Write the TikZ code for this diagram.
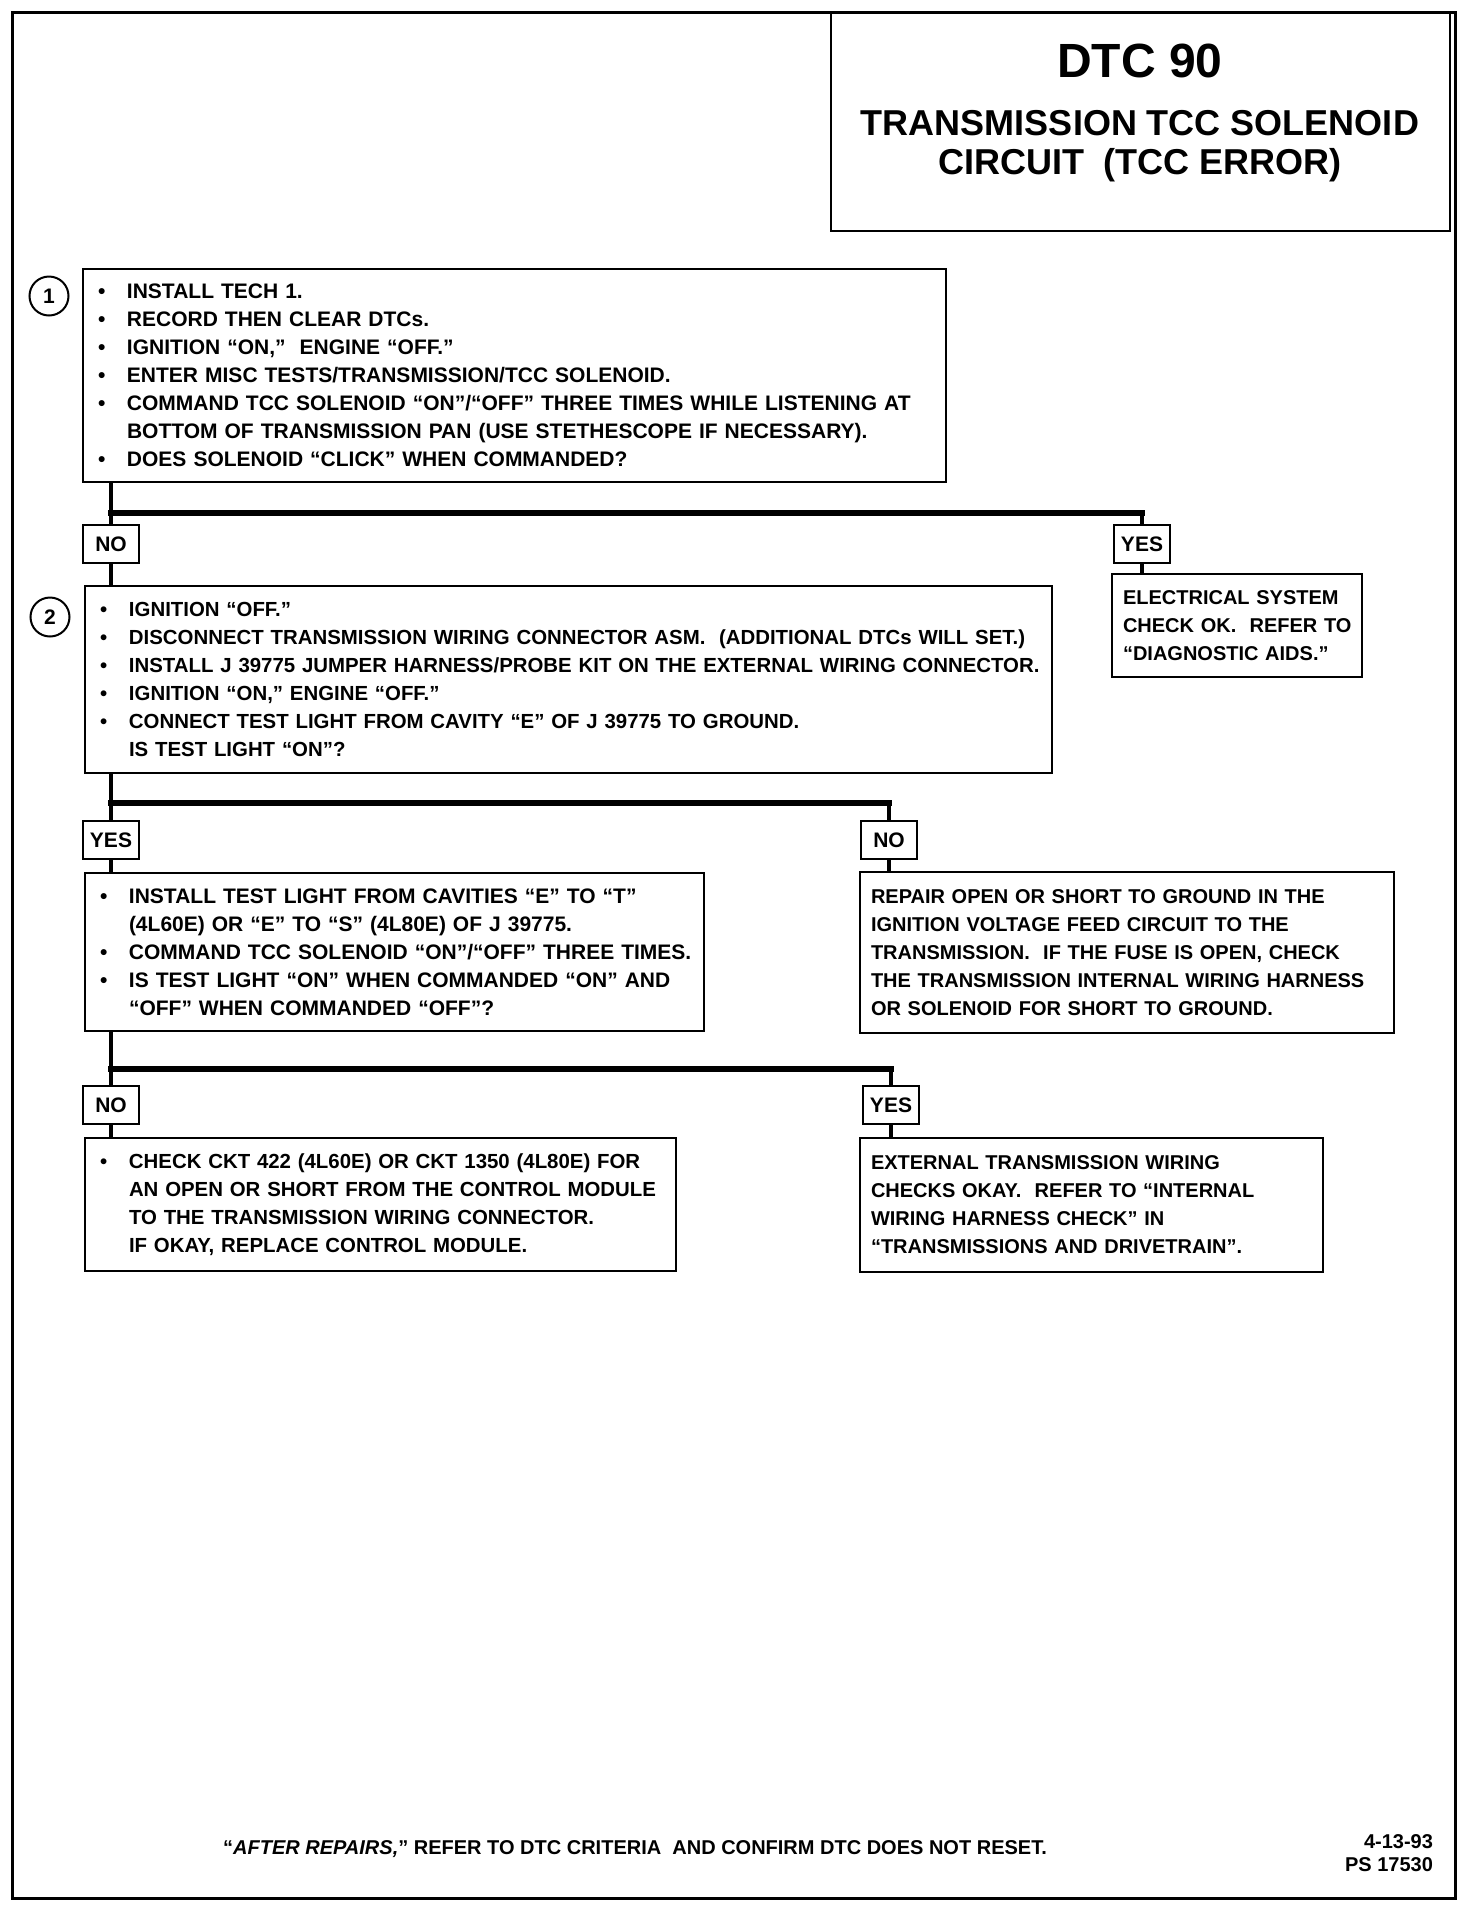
\documentclass[tikz,border=0pt]{standalone}
\usepackage{fontspec}
\setmainfont{Liberation Sans}
\newcommand{\itm}[1]{\mbox{\makebox[14.5pt][l]{\textbullet}#1}}
\newcommand{\cnt}[1]{\mbox{\hspace*{14.5pt}#1}}
\newcommand{\pln}[1]{\mbox{#1}}
\begin{document}
\begin{tikzpicture}[x=0.5pt,y=-0.5pt,line join=miter,
  box/.style={draw,line width=1pt,anchor=north west,align=left,inner xsep=7.5pt,inner ysep=0pt},
  tight/.style={font=\fontsize{10.2}{14}\selectfont\bfseries},
  note/.style={box,inner xsep=5.5pt,font=\fontsize{10}{14}\selectfont\bfseries},
  lbl/.style={draw,line width=1pt,minimum height=19pt,minimum width=28pt,inner sep=2.5pt},
  num/.style={draw,circle,line width=1pt,minimum size=19.5pt,inner sep=0pt},
  flow/.style={line width=1.8pt},
  bar/.style={line width=2.8pt,line cap=rect}]
 \tikzset{every node/.style={font=\fontsize{10.5}{14}\selectfont\bfseries}}
 \useasboundingbox (0,0) rectangle (1472,1908);
 % frame and title
 \draw[line width=1.5pt] (12,12) rectangle (1455,1898);
 \draw[line width=1.2pt] (831,12) rectangle (1450,231);
 \node (dtc) at (1140,61) {\fontsize{24}{28}\selectfont\bfseries DTC 90};
 \node[align=center,font=\fontsize{18}{19.5}\selectfont\bfseries] (ttl) at (1140,146)
   {TRANSMISSION TCC SOLENOID\\CIRCUIT\ \ (TCC ERROR)};
 % step 1
 \node[num] (n1) at (49,296) {1};
 \node[box,text width=416.5pt,minimum height=106.5pt] (q1) at (82,268) {%
   \itm{INSTALL TECH 1.}\\
   \itm{RECORD THEN CLEAR DTCs.}\\
   \itm{IGNITION “ON,”\ \ ENGINE “OFF.”}\\
   \itm{ENTER MISC TESTS/TRANSMISSION/TCC SOLENOID.}\\
   \itm{COMMAND TCC SOLENOID “ON”/“OFF” THREE TIMES WHILE LISTENING AT}\\
   \cnt{BOTTOM OF TRANSMISSION PAN (USE STETHESCOPE IF NECESSARY).}\\
   \itm{DOES SOLENOID “CLICK” WHEN COMMANDED?}};
 \coordinate (j1) at (111,513);
 \node[lbl] (no1) at (111,544) {NO};
 \node[lbl] (yes1) at (1142,544) {YES};
 \node[note,text width=114pt,minimum height=51.5pt] (el) at (1111,573)
   {\pln{ELECTRICAL SYSTEM}\\\pln{CHECK OK.\ \ REFER TO}\\\pln{“DIAGNOSTIC AIDS.”}};
 \draw[flow] (q1.south -| j1) -- (j1) -- (no1.north);
 \draw[bar] (j1) -- (j1 -| yes1);
 \draw[flow] (j1 -| yes1) -- (yes1.north);
 \draw[flow] (yes1.south) -- (yes1.south |- el.north);
 % step 2
 \node[num] (n2) at (50,617) {2};
 \node[box,tight,text width=468.5pt,minimum height=93.5pt] (q2) at (84,585) {%
   \itm{IGNITION “OFF.”}\\
   \itm{DISCONNECT TRANSMISSION WIRING CONNECTOR ASM.\ \ (ADDITIONAL DTCs WILL SET.)}\\
   \itm{INSTALL J 39775 JUMPER HARNESS/PROBE KIT ON THE EXTERNAL WIRING CONNECTOR.}\\
   \itm{IGNITION “ON,” ENGINE “OFF.”}\\
   \itm{CONNECT TEST LIGHT FROM CAVITY “E” OF J 39775 TO GROUND.}\\
   \cnt{IS TEST LIGHT “ON”?}};
 \draw[flow] (no1.south) -- (no1.south |- q2.north);
 \coordinate (j2) at (111,803);
 \node[lbl] (yes2) at (111,840) {YES};
 \node[lbl] (no2) at (889,840) {NO};
 \draw[flow] (q2.south -| j2) -- (j2) -- (yes2.north);
 \draw[bar] (j2) -- (j2 -| no2);
 \draw[flow] (j2 -| no2) -- (no2.north);
 % step 3
 \node[box,text width=294.5pt,minimum height=79pt] (q3) at (84,872) {%
   \itm{INSTALL TEST LIGHT FROM CAVITIES “E” TO “T”}\\
   \cnt{(4L60E) OR “E” TO “S” (4L80E) OF J 39775.}\\
   \itm{COMMAND TCC SOLENOID “ON”/“OFF” THREE TIMES.}\\
   \itm{IS TEST LIGHT “ON” WHEN COMMANDED “ON” AND}\\
   \cnt{“OFF” WHEN COMMANDED “OFF”?}};
 \node[note,text width=256pt,minimum height=80.5pt] (rp) at (859,871)
   {\pln{REPAIR OPEN OR SHORT TO GROUND IN THE}\\
    \pln{IGNITION VOLTAGE FEED CIRCUIT TO THE}\\
    \pln{TRANSMISSION.\ \ IF THE FUSE IS OPEN, CHECK}\\
    \pln{THE TRANSMISSION INTERNAL WIRING HARNESS}\\
    \pln{OR SOLENOID FOR SHORT TO GROUND.}};
 \draw[flow] (yes2.south) -- (yes2.south |- q3.north);
 \draw[flow] (no2.south) -- (no2.south |- rp.north);
 \coordinate (j3) at (111,1069);
 \node[lbl] (no3) at (111,1105) {NO};
 \node[lbl] (yes3) at (891,1105) {YES};
 \draw[flow] (q3.south -| j3) -- (j3) -- (no3.north);
 \draw[bar] (j3) -- (j3 -| yes3);
 \draw[flow] (j3 -| yes3) -- (yes3.north);
 % results
 \node[box,tight,text width=280.5pt,minimum height=66.5pt] (ck) at (84,1137) {%
   \itm{CHECK CKT 422 (4L60E) OR CKT 1350 (4L80E) FOR}\\
   \cnt{AN OPEN OR SHORT FROM THE CONTROL MODULE}\\
   \cnt{TO THE TRANSMISSION WIRING CONNECTOR.}\\
   \cnt{IF OKAY, REPLACE CONTROL MODULE.}};
 \node[note,text width=220.5pt,minimum height=67pt] (ok) at (859,1137)
   {\pln{EXTERNAL TRANSMISSION WIRING}\\
    \pln{CHECKS OKAY.\ \ REFER TO “INTERNAL}\\
    \pln{WIRING HARNESS CHECK” IN}\\
    \pln{“TRANSMISSIONS AND DRIVETRAIN”.}};
 \draw[flow] (no3.south) -- (no3.south |- ck.north);
 \draw[flow] (yes3.south) -- (yes3.south |- ok.north);
 % footer
 \node[font=\fontsize{10}{14}\selectfont\bfseries] (ftr) at (635,1849) {“\textit{AFTER REPAIRS,}” REFER TO DTC CRITERIA\ \ AND CONFIRM DTC DOES NOT RESET.};
 \node[anchor=east,align=right,font=\fontsize{10}{11.5}\selectfont\bfseries] (ps) at (1440,1853) {4-13-93\\PS 17530};
\end{tikzpicture}
\end{document}
